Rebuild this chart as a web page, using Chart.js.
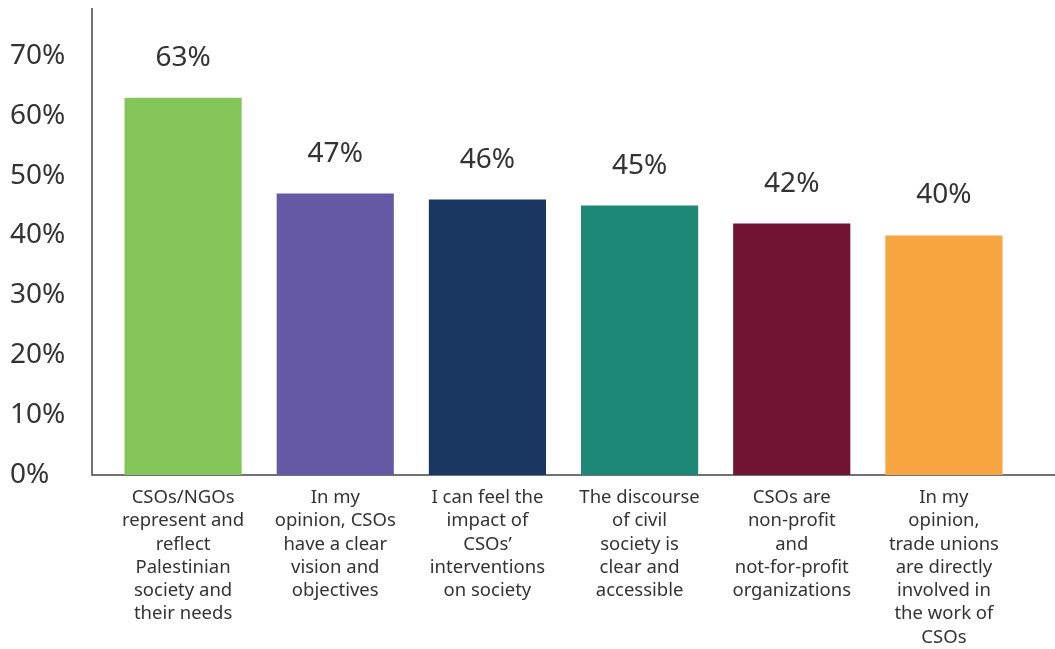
<!DOCTYPE html>
<html>
<head>
<meta charset="utf-8">
<script src="https://cdn.jsdelivr.net/npm/chart.js@4"></script>
<style>
    html, body { margin: 0; padding: 0; background: #ffffff; }
    #wrap { width: 1055px; height: 649px; }
</style>
</head>
<body>
<div id="wrap"><canvas id="cso"></canvas></div>
<script>
// Survey statements (wrapped as they are printed under each bar)
const statements = [
    ['CSOs/NGOs', 'represent and', 'reflect', 'Palestinian', 'society and', 'their needs'],
    ['In my', 'opinion, CSOs', 'have a clear', 'vision and', 'objectives'],
    ['I can feel the', 'impact of', 'CSOs\u2019', 'interventions', 'on society'],
    ['The discourse', 'of civil', 'society is', 'clear and', 'accessible'],
    ['CSOs are', 'non-profit', 'and', 'not-for-profit', 'organizations'],
    ['In my', 'opinion,', 'trade unions', 'are directly', 'involved in', 'the work of', 'CSOs']
];

// Share of respondents who agree (%)
const agreeShare = [63, 47, 46, 45, 42, 40];

const barColors = ['#84C559', '#6559A5', '#193760', '#1D8876', '#711333', '#F7A541'];

const textColor = '#333333';
const fontFamily = '"Noto Sans", "Open Sans", sans-serif';

// Axis lines: the vertical one sits a little left of the plot area,
// the horizontal one runs out to the right edge of the canvas
const axisLines = {
    id: 'axisLines',
    beforeDatasetsDraw(chart) {
        const { ctx, chartArea } = chart;
        const x0 = chartArea.left - 15;
        ctx.save();
        ctx.strokeStyle = '#444444';
        ctx.lineWidth = 1.5;
        ctx.beginPath();
        ctx.moveTo(x0, chartArea.top);
        ctx.lineTo(x0, chartArea.bottom);
        ctx.lineTo(chart.width, chartArea.bottom);
        ctx.stroke();
        ctx.restore();
    }
};

// Percentage printed above each bar
const valueLabels = {
    id: 'valueLabels',
    afterDatasetsDraw(chart) {
        const { ctx } = chart;
        const meta = chart.getDatasetMeta(0);
        ctx.save();
        ctx.fillStyle = textColor;
        ctx.font = '28px ' + fontFamily;
        ctx.textAlign = 'center';
        ctx.textBaseline = 'middle';
        meta.data.forEach(function(bar, i) {
            ctx.fillText(agreeShare[i] + '%', bar.x, bar.y - 40);
        });
        ctx.restore();
    }
};

new Chart(document.getElementById('cso'), {
    type: 'bar',
    data: {
        labels: statements,
        datasets: [{
            data: agreeShare,
            backgroundColor: barColors,
            borderWidth: 0,
            barPercentage: 1,
            categoryPercentage: 0.77
        }]
    },
    options: {
        responsive: true,
        maintainAspectRatio: false,
        animation: false,
        layout: {
            padding: { top: 8, left: 10, right: 35, bottom: 0 }
        },
        plugins: {
            legend: { display: false },
            tooltip: { enabled: false }
        },
        scales: {
            x: {
                grid: { display: false, drawTicks: false },
                border: { display: false },
                ticks: {
                    color: textColor,
                    font: { family: fontFamily, size: 18.5, lineHeight: 1.26 },
                    padding: 11,
                    maxRotation: 0,
                    autoSkip: false
                },
                afterFit: function(scale) { scale.height = 174; }
            },
            y: {
                min: 0,
                max: 78,
                grid: { display: false, drawTicks: false },
                border: { display: false },
                ticks: {
                    stepSize: 10,
                    includeBounds: false,
                    crossAlign: 'far',
                    color: textColor,
                    font: { family: fontFamily, size: 28 },
                    callback: function(value) { return value + '%'; }
                },
                afterFit: function(scale) {
                    scale.width = 97;
                    // the top label sits well below the plot edge, no room needed for it
                    scale.paddingTop = 0;
                }
            }
        }
    },
    plugins: [axisLines, valueLabels]
});
</script>
</body>
</html>
